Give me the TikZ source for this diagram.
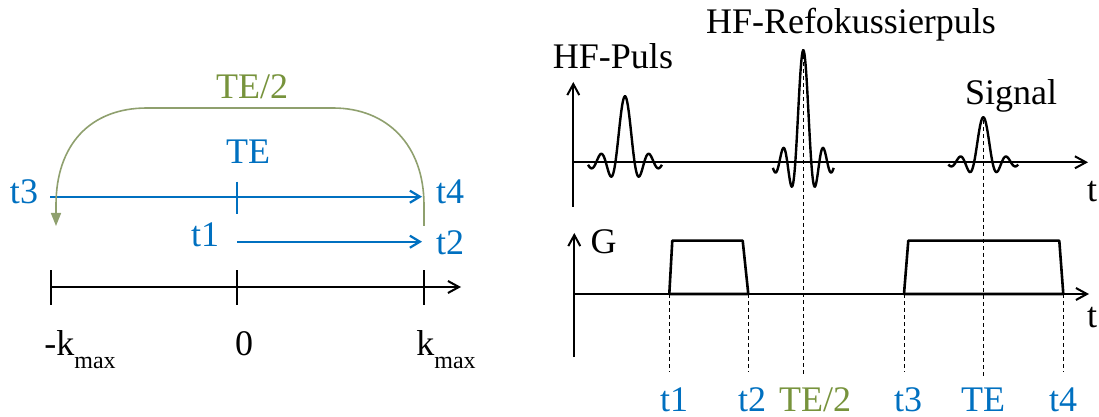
\documentclass[tikz,border=0pt]{standalone}
\usepackage{fontspec}
\setmainfont{Liberation Serif}
\usetikzlibrary{arrows.meta}
\definecolor{blau}{RGB}{0,112,192}
\definecolor{oliv}{RGB}{119,147,60}
\definecolor{olivhell}{RGB}{143,160,110}
\newcommand{\kmax}{k\raisebox{-6.5pt}{\fontsize{12}{12}\selectfont max}}
% sinc-Puls: x0, y0, Pixel pro pi, Amplitude, Ende (in pi)
\newcommand{\sincpuls}[5]{\draw[puls] plot[domain=-#5:#5,samples=150,smooth]
  ({#1+#3*\x},{#2-#4*sin(180*\x)/(pi*\x)});}
\tikzset{
  achse/.style={line width=1pt,-{Straight Barb[length=5.5pt,width=6pt]}},
  strich/.style={line width=1.2pt},
  bpfeil/.style={blau,line width=1.1pt,-{Straight Barb[length=5pt,width=6pt]}},
  gbogen/.style={olivhell,line width=0.8pt,-{Triangle[length=6.5pt,width=5pt]}},
  puls/.style={line width=1.2pt},
  gradient/.style={line width=1.3pt,line join=round},
  hilfslinie/.style={line width=0.5pt,dash pattern=on 2pt off 1.5pt},
  beschr/.style={inner sep=0pt,anchor=base},
  blautext/.style={beschr,text=blau},
  olivtext/.style={beschr,text=oliv},
}
\begin{document}
\begin{tikzpicture}[x=0.5pt,y=-0.5pt,font=\fontsize{18}{22}\selectfont]
  \useasboundingbox (0,0) rectangle (1099,417);
  % k-Raum
  \coordinate (kl) at (51,287);
  \coordinate (k0) at (237,287);
  \coordinate (kr) at (424,287);
  \coordinate (kend) at (461,287);
  \draw[achse] (kl) -- (kend);
  \foreach \x in {51,237,424} \draw[strich] (\x,270) -- (\x,305);
  \node[beschr,anchor=base west] (kmin) at (44,355) {-\kmax};
  \node[beschr] (null) at (244,355) {0};
  \node[beschr,anchor=base west] (kmaxl) at (416,355) {\kmax};

  \node[blautext] (lt3) at (24,203.3) {t3};
  \node[blautext] (lt4) at (450,203.3) {t4};
  \node[blautext] (lt1) at (205,246.7) {t1};
  \node[blautext] (lt2) at (450,255) {t2};
  \node[blautext] (lte) at (248,163.3) {TE};
  \coordinate (a3) at (50,196.7);
  \coordinate (a4) at (422,196.7);
  \coordinate (a1) at (237.3,241.7);
  \coordinate (a2) at (422,241.7);
  \draw[bpfeil] (a3) -- (a4);
  \draw[bpfeil] (a1) -- (a2);
  \draw[blau,line width=1.1pt] (237,181.7) -- (237,214);

  \node[olivtext] (lte2) at (252,98.3) {TE/2};
  \draw[gbogen] (424,226) -- (424,205) .. controls (424,145) and (387,108) .. (333,108)
    -- (147,108) .. controls (90,108) and (56,145) .. (56,205) -- (56,226);

  % HF
  \draw[achse] (573.3,207) -- (573.3,82);
  \draw[achse] (573.3,162.3) -- (1088,162.3);
  \sincpuls{625}{162.3}{9.6}{66}{3.85}
  \sincpuls{803.3}{162.3}{8}{112}{3.8}
  \sincpuls{983.3}{162.3}{9.2}{45}{3.8}
  \node[beschr] (hf) at (613,69) {HF-Puls};
  \node[beschr] (refok) at (851,33.3) {HF-Refokussierpuls};
  \node[beschr] (sig) at (1011,105) {Signal};
  \node[beschr] (thf) at (1092,201.7) {t};

  % Gradient
  \draw[achse] (574.3,357) -- (574.3,233);
  \draw[achse] (574.3,294) -- (1089,294);
  \draw[gradient] (669.3,294) -- (672.3,240.7) -- (742.7,240.7) -- (748.3,294) -- cycle;
  \draw[gradient] (904,294) -- (908.3,240.7) -- (1059.3,240.7) -- (1063.3,294) -- cycle;
  \node[beschr] (g) at (603.5,253.3) {G};
  \node[beschr] (tg) at (1092,328) {t};

  % Hilfslinien
  \foreach \x in {669.3,748.3,904,1063.3} \draw[hilfslinie] (\x,294) -- (\x,372);
  \draw[hilfslinie] (803.3,55) -- (803.3,374);
  \draw[hilfslinie] (983.3,120) -- (983.3,376);
  \node[blautext] (rt1) at (674,411.7) {t1};
  \node[blautext] (rt2) at (752,411.7) {t2};
  \node[olivtext] (rte2) at (815,411.7) {TE/2};
  \node[blautext] (rt3) at (908,411.7) {t3};
  \node[blautext] (rte) at (983,411.7) {TE};
  \node[blautext] (rt4) at (1063,411.7) {t4};
\end{tikzpicture}
\end{document}
